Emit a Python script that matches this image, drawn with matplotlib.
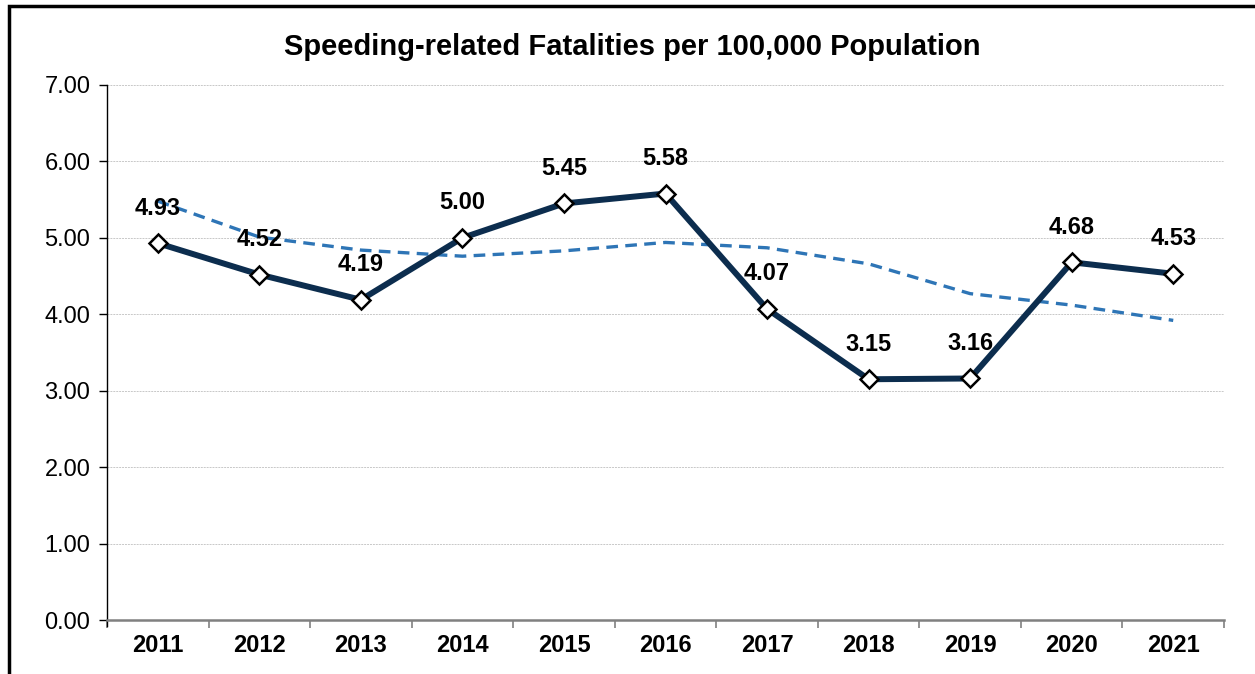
import matplotlib.pyplot as plt
from matplotlib.patches import Rectangle

# Data
years = ['2011', '2012', '2013', '2014', '2015', '2016', '2017', '2018', '2019', '2020', '2021']
rates = [4.93, 4.52, 4.19, 5.00, 5.45, 5.58, 4.07, 3.15, 3.16, 4.68, 4.53]
trend = [5.48, 5.01, 4.84, 4.76, 4.83, 4.94, 4.87, 4.66, 4.27, 4.12, 3.92]

plt.rcParams['font.family'] = ['Liberation Sans', 'DejaVu Sans']

fig = plt.figure(figsize=(12.55, 6.74), dpi=100)
ax = fig.add_axes([0.0853, 0.0801, 0.8900, 0.7938])

x = list(range(len(years)))

# Trend line (dashed)
ax.plot(x, trend, color='#2E75B6', linewidth=2.4, linestyle=(0, (3.5, 2.2)), zorder=2)

# Main series
ax.plot(x, rates, color='#0C2D4E', linewidth=4.3, marker='D', markersize=9.5,
        markerfacecolor='white', markeredgecolor='black', markeredgewidth=1.8, zorder=3)

for xi, v in zip(x, rates):
    ax.annotate(f'{v:.2f}', (xi, v), xytext=(0, 17), textcoords='offset points',
                ha='center', va='bottom', fontsize=17, fontweight='bold', zorder=4)

# Axes styling
ax.set_xlim(-0.5, len(years) - 0.5)
ax.set_ylim(0, 7)
ax.set_yticks([0, 1, 2, 3, 4, 5, 6, 7])
ax.set_yticklabels([f'{t:.2f}' for t in range(8)], fontsize=17)
ax.set_xticks(x)
ax.set_xticklabels(years, fontsize=17, fontweight='bold')
ax.set_xticks([i - 0.5 for i in range(len(years) + 1)], minor=True)
ax.tick_params(axis='x', which='major', length=0, pad=10)
ax.tick_params(axis='x', which='minor', length=6, width=1.2, color='#808080')
ax.tick_params(axis='y', length=6, width=1, color='black', pad=6)

ax.grid(axis='y', color='#C8C8C8', linestyle=(0, (2, 1)), linewidth=0.7)
ax.set_axisbelow(True)
for s in ['top', 'right']:
    ax.spines[s].set_visible(False)
ax.spines['left'].set_color('black')
ax.spines['left'].set_linewidth(1.0)
ax.spines['left'].set_bounds(-0.08, 7)
ax.spines['bottom'].set_color('#808080')
ax.spines['bottom'].set_linewidth(1.8)

fig.text(0.504, 0.931, 'Speeding-related Fatalities per 100,000 Population',
         ha='center', va='center', fontsize=21, fontweight='bold')

# Outer chart frame (right and bottom edges fall outside the image)
fig.patches.append(Rectangle((0.0072, -0.05), 1.1, 1.0418, transform=fig.transFigure,
                             fill=False, edgecolor='black', linewidth=2.5))

fig.savefig('out.png', dpi=100)
